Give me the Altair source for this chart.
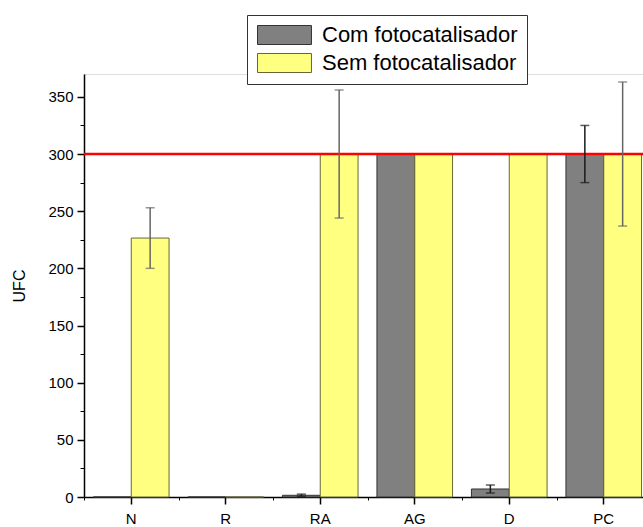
import altair as alt
import pandas as pd

categories = ["N", "R", "RA", "AG", "D", "PC"]
groups = ["Com fotocatalisador", "Sem fotocatalisador"]
com_values = [0, 0, 1.5, 300, 7, 300]
com_errors = [None, None, 1.0, None, 3.5, 25]
sem_values = [226.5, 0, 300, 300, 300, 300]
sem_errors = [26.5, None, 56, None, None, 63]
y_major = [0, 50, 100, 150, 200, 250, 300, 350]
y_minor = [25, 75, 125, 175, 225, 275, 325]
limit_value = 300

rows = []
for c, v, e in zip(categories, com_values, com_errors):
    rows.append({"cat": c, "group": groups[0], "val": v, "err": e})
for c, v, e in zip(categories, sem_values, sem_errors):
    rows.append({"cat": c, "group": groups[1], "val": v, "err": e})
df = pd.DataFrame(rows)
df["lo"] = df["val"] - df["err"]
df["hi"] = df["val"] + df["err"]
err_df = df.dropna(subset=["err"])

FONT = "Liberation Sans"
W, H = 559, 423

xscale = alt.Scale(domain=categories, paddingInner=0, paddingOuter=0, range=[0, 567])
offscale = alt.Scale(domain=groups, paddingInner=0, paddingOuter=0.25)
yscale = alt.Scale(domain=[0, 370], nice=False, zero=True)

x_main = alt.X("cat:N", sort=categories, scale=xscale,
               axis=alt.Axis(orient="bottom", title=None, labelAngle=0, labelFont=FONT,
                             labelFontSize=15, labelColor="black", tickColor="black",
                             domainColor="black", tickSize=7, labelPadding=7,
                             domainWidth=1.5, tickWidth=1.5))
x_none = alt.X("cat:N", sort=categories, scale=xscale, axis=None)
xoff = alt.XOffset("group:N", scale=offscale, sort=groups)

bars = alt.Chart(df).mark_bar(strokeWidth=1).encode(
    x=x_main,
    xOffset=xoff,
    y=alt.Y("val:Q", scale=yscale,
            axis=alt.Axis(orient="left", values=y_major, title="UFC", grid=False,
                          labelFont=FONT, labelFontSize=15, labelColor="black",
                          titleFont=FONT, titleFontSize=16, titleFontWeight="normal",
                          titleColor="black", tickColor="black", domainColor="black",
                          tickSize=7, labelPadding=4, titlePadding=20, domainWidth=1.5,
                          tickWidth=1.5)),
    color=alt.Color("group:N", scale=alt.Scale(domain=groups, range=["#808080", "#FFFF80"]),
                    legend=alt.Legend(title=None, orient="none", legendX=163, legendY=-59,
                                      direction="vertical",
                                      symbolType="M-1,-1L4.68,-1L4.68,1L-1,1Z",
                                      symbolSize=361, symbolStrokeColor="#222",
                                      symbolStrokeWidth=1, symbolOpacity=1,
                                      labelFont=FONT, labelFontSize=22, labelColor="black",
                                      strokeColor="#333", fillColor="white", padding=9,
                                      rowPadding=4, labelOffset=44, labelLimit=400)),
    stroke=alt.Stroke("group:N", scale=alt.Scale(domain=groups, range=["#333333", "#66663a"]),
                      legend=None),
)

minor = alt.Chart(df).mark_bar(opacity=0).encode(
    x=alt.X("cat:N", sort=categories, scale=xscale,
            axis=alt.Axis(orient="bottom", title=None, labels=False, domain=False,
                          tickBand="extent", tickSize=3, tickColor="black", tickWidth=1)),
    y=alt.Y("val:Q", scale=yscale,
            axis=alt.Axis(orient="left", values=y_minor, labels=False, title=None,
                          domain=False, grid=False, tickSize=4, tickColor="black",
                          tickWidth=1)),
)

limit = alt.Chart(pd.DataFrame({"v": [limit_value]})).mark_rule(
    color="#ff0000", strokeWidth=2.5).encode(y=alt.Y("v:Q", scale=yscale, axis=None))

err_range = ["#1a1a1a", "#666666"]

err_rule = alt.Chart(err_df).mark_rule(strokeWidth=1.5).encode(
    x=x_none, xOffset=xoff,
    y=alt.Y("lo:Q", scale=yscale, axis=None), y2="hi:Q",
    stroke=alt.Stroke("group:N", scale=alt.Scale(domain=groups, range=err_range), legend=None))

cap_hi = alt.Chart(err_df).mark_tick(size=9, thickness=1.5).encode(
    x=x_none, xOffset=xoff,
    y=alt.Y("hi:Q", scale=yscale, axis=None),
    color=alt.Color("group:N", scale=alt.Scale(domain=groups, range=err_range), legend=None))
cap_lo = alt.Chart(err_df).mark_tick(size=9, thickness=1.5).encode(
    x=x_none, xOffset=xoff,
    y=alt.Y("lo:Q", scale=yscale, axis=None),
    color=alt.Color("group:N", scale=alt.Scale(domain=groups, range=err_range), legend=None))

chart = alt.layer(minor, bars, limit, err_rule, cap_hi, cap_lo).resolve_axis(
    x="independent", y="independent"
).resolve_scale(color="independent", stroke="independent").properties(
    width=W, height=H,
    autosize=alt.AutoSizeParams(type="none"),
    padding={"left": 84, "top": 74, "right": 0, "bottom": 30},
).configure_view(stroke=None).configure(background="white")

chart.save("out.html", embed_options={"renderer": "svg", "actions": False})
